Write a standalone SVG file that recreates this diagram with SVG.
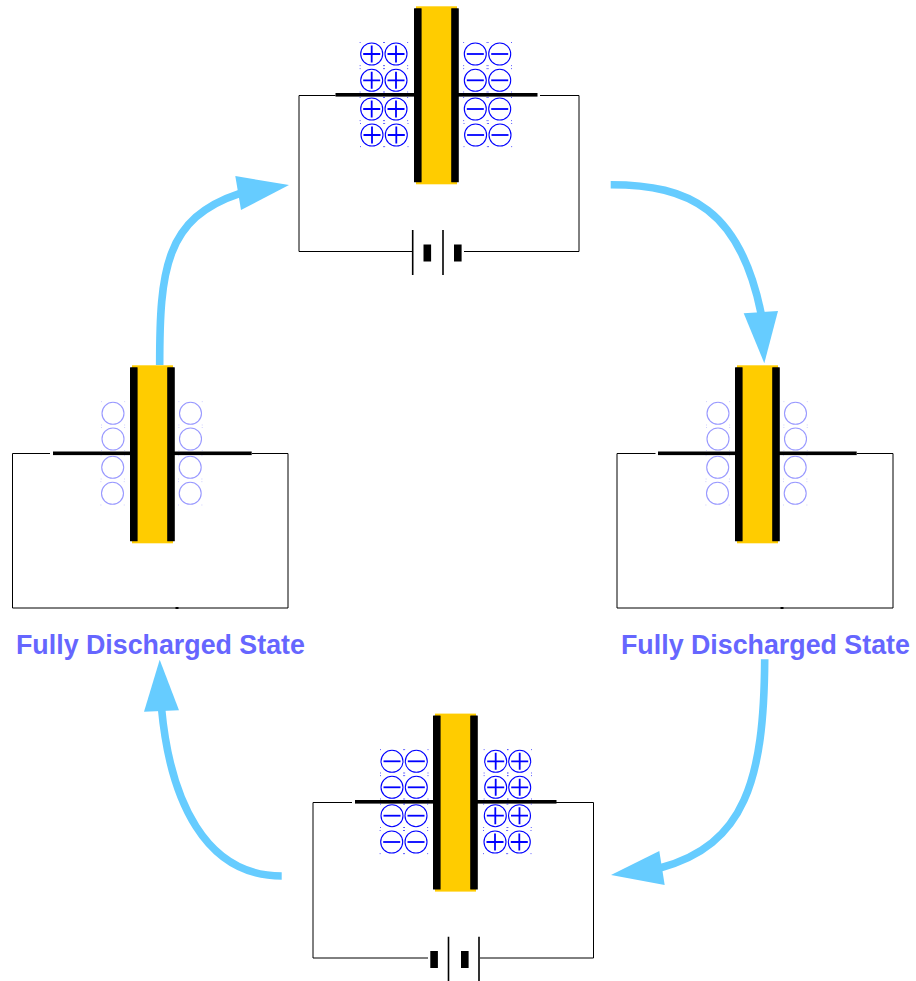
<svg xmlns="http://www.w3.org/2000/svg" width="916" height="981" viewBox="0 0 916 981">
<style>
.wire{fill:none;stroke:#000;stroke-width:1}
.lead{fill:#000}
.dielectric{fill:#ffcc00}
.arc{fill:none;stroke:#66ccff;stroke-width:7.6}
.head{fill:#66ccff}
.ring{fill:#fff;stroke:#0000ff;stroke-width:1.1}
.mark{fill:none;stroke:#0000ff;stroke-width:1.8}
.dot{fill:#0000ff}
.empty{fill:#fff;stroke:#9999ff;stroke-width:1.1}
.emptydot{fill:#9999ff;opacity:.7}
.bat{fill:none;stroke:#000;stroke-width:1.6}
.label{font-family:"Liberation Sans",Arial,sans-serif;font-weight:700;font-size:26.8px;fill:#6666ff}
</style>
<defs>
<g id="corners"><rect x="-12" y="-12" width=".8" height=".8"/><rect x="11.3" y="-12" width=".8" height=".8"/><rect x="-12" y="11.3" width=".8" height=".8"/><rect x="11.3" y="11.3" width=".8" height=".8"/></g>
<g id="plus"><circle class="ring" r="11"/><use href="#corners" class="dot"/><path class="mark" d="M-8.5 0H8.5M0-8.5V8.5"/></g>
<g id="minus"><circle class="ring" r="11"/><use href="#corners" class="dot"/><path class="mark" d="M-8.5 0H8.5"/></g>
<g id="neutral"><circle class="empty" r="11"/><use href="#corners" class="emptydot"/></g>
<g id="cap">
<rect class="dielectric" x="0" y="0" width="41" height="178"/>
<rect class="lead" x="-2" y="2" width="7.6" height="174" rx=".5"/>
<rect class="lead" x="35.2" y="2" width="7.6" height="174" rx=".5"/>
</g>
</defs>
<g id="connectors">
<path class="arc" d="M610.7 184.7C690 184.7 740 210 761 313"/>
<polygon class="head" points="743.7,313.3 778,311 764.3,363.3"/>
<path class="arc" d="M764.7 659.3C764 780 745 845 660 868"/>
<polygon class="head" points="659.3,851 664.7,885 611,875"/>
<path class="arc" d="M281.7 876C205 876 170 800 161.5 708"/>
<polygon class="head" points="144,711.7 179,710.3 159.7,659.7"/>
<path class="arc" d="M159.7 365C159.7 270 165 218 240 193.3"/>
<polygon class="head" points="235.3,176 241,210 289,185"/>
</g>
<g id="node-top">
<path class="wire" d="M335.5 95.5H299V251.5H412.5M540 95.5H579V251.5H464"/>
<rect class="lead" x="335.5" y="93" width="80" height="3.6"/><rect class="lead" x="458" y="93" width="79.5" height="3.6"/>
<use href="#cap" x="416" y="6.3"/>
<path class="bat" d="M412.7 230V275M443 230V275"/>
<rect class="lead" x="423.5" y="244.5" width="7.6" height="17"/><rect class="lead" x="454" y="244.5" width="7.6" height="17"/>
<use href="#plus" x="371.7" y="54"/><use href="#plus" x="396" y="54"/><use href="#plus" x="371.7" y="80.3"/><use href="#plus" x="396" y="80.3"/><use href="#plus" x="371.7" y="109"/><use href="#plus" x="396" y="109"/><use href="#plus" x="372" y="135"/><use href="#plus" x="396.3" y="135"/>
<use href="#minus" x="475.3" y="54"/><use href="#minus" x="499.7" y="54"/><use href="#minus" x="475.3" y="80.3"/><use href="#minus" x="499.7" y="80.3"/><use href="#minus" x="475.3" y="109"/><use href="#minus" x="499.7" y="109"/><use href="#minus" x="475.6" y="135"/><use href="#minus" x="500" y="135"/>
</g>
<g id="node-left">
<path class="wire" d="M50 453.5H12.5V608H288V453.5H252"/>
<rect class="lead" x="175.5" y="607" width="3" height="2"/>
<rect class="lead" x="53" y="451.5" width="79" height="3.6"/><rect class="lead" x="174" y="451.5" width="77.7" height="3.6"/>
<use href="#cap" x="132" y="365.3"/>
<use href="#neutral" x="113" y="413.3"/><use href="#neutral" x="190.5" y="413.3"/><use href="#neutral" x="113" y="439"/><use href="#neutral" x="190.5" y="439"/><use href="#neutral" x="112.7" y="467.3"/><use href="#neutral" x="190.2" y="467.3"/><use href="#neutral" x="112.5" y="493.3"/><use href="#neutral" x="190.2" y="493.3"/>
<text class="label" x="16" y="654">Fully Discharged State</text>
</g>
<g id="node-right">
<path class="wire" d="M655.5 453.5H617V608H893V453.5H857"/>
<rect class="lead" x="780.5" y="607" width="3" height="2"/>
<rect class="lead" x="658" y="451.5" width="79" height="3.6"/><rect class="lead" x="779" y="451.5" width="77.7" height="3.6"/>
<use href="#cap" x="737" y="365.3"/>
<use href="#neutral" x="718" y="413.3"/><use href="#neutral" x="795.5" y="413.3"/><use href="#neutral" x="718" y="439"/><use href="#neutral" x="795.5" y="439"/><use href="#neutral" x="717.7" y="467.3"/><use href="#neutral" x="795.2" y="467.3"/><use href="#neutral" x="717.5" y="493.3"/><use href="#neutral" x="795.2" y="493.3"/>
<text class="label" x="621" y="654">Fully Discharged State</text>
</g>
<g id="node-bottom">
<path class="wire" d="M352 802.5H313V958H428M556 802.5H593.5V958H480"/>
<rect class="lead" x="355" y="800" width="80" height="3.6"/><rect class="lead" x="477" y="800" width="79.5" height="3.6"/>
<use href="#cap" x="435" y="713.6"/>
<path class="bat" d="M448.5 936.7V981M479 936.7V981"/>
<rect class="lead" x="430.3" y="951" width="7.6" height="17"/><rect class="lead" x="461" y="951" width="7.6" height="17"/>
<use href="#minus" x="392" y="761.3"/><use href="#minus" x="416.3" y="761.3"/><use href="#minus" x="392" y="787.3"/><use href="#minus" x="416.3" y="787.3"/><use href="#minus" x="392" y="815.7"/><use href="#minus" x="416" y="815.7"/><use href="#minus" x="391.7" y="842"/><use href="#minus" x="416" y="842"/>
<use href="#plus" x="495.7" y="761.3"/><use href="#plus" x="519.7" y="761.3"/><use href="#plus" x="495.7" y="787.3"/><use href="#plus" x="519.7" y="787.3"/><use href="#plus" x="495.3" y="815.7"/><use href="#plus" x="519.5" y="815.7"/><use href="#plus" x="495" y="842"/><use href="#plus" x="519.3" y="842"/>
</g>
</svg>
